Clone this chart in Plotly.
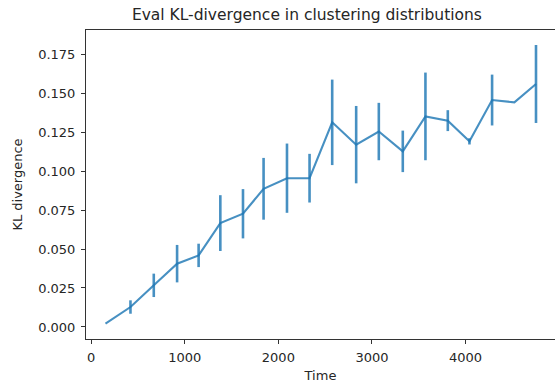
import plotly.graph_objects as go

time = [153, 420, 669, 918, 1148, 1380, 1622, 1842, 2092, 2333,
        2575, 2831, 3073, 3329, 3571, 3810, 4041, 4283, 4521, 4752]
kl_mean = [0.0022, 0.0128, 0.0267, 0.0406, 0.0459, 0.0666, 0.0726, 0.0886, 0.0954, 0.0954,
           0.1312, 0.1169, 0.1253, 0.1126, 0.1350, 0.1323, 0.1190, 0.1455, 0.1440, 0.1558]
kl_err = [0.0, 0.0043, 0.0075, 0.0120, 0.0075, 0.0179, 0.0158, 0.0198, 0.0222, 0.0156,
          0.0274, 0.0248, 0.0184, 0.0133, 0.0281, 0.0067, 0.0020, 0.0163, 0.0, 0.0250]

y_ticks = [0.0, 0.025, 0.05, 0.075, 0.1, 0.125, 0.15, 0.175]
x_ticks = [0, 1000, 2000, 3000, 4000]

color = "rgba(31,119,180,0.82)"
font = "DejaVu Sans"

fig = go.Figure()
fig.add_trace(go.Scatter(
    x=time, y=kl_mean, mode="lines",
    line=dict(color=color, width=2.1),
    error_y=dict(type="data", array=kl_err, visible=True,
                 color=color, thickness=2.6, width=0),
    showlegend=False,
))

fig.update_layout(
    width=555, height=383,
    margin=dict(l=86, r=0, t=30, b=44),
    paper_bgcolor="white", plot_bgcolor="white",
    font=dict(family=font, size=13, color="#262626"),
    title=dict(text="Eval KL-divergence in clustering distributions",
               x=0.553, xanchor="center", y=0.962, yanchor="middle",
               font=dict(family=font, size=15.5, color="#262626")),
)
fig.update_xaxes(
    range=[-55, 4955], tickvals=x_ticks, ticktext=[str(t) for t in x_ticks],
    showgrid=False, zeroline=False, showline=True, linecolor="#333333", linewidth=1,
    mirror=True, ticks="outside", ticklen=4, tickcolor="#333333",
    ticklabelstandoff=2,
    title=dict(text="Time", standoff=8, font=dict(size=13)),
)
fig.update_yaxes(
    range=[-0.0077, 0.1904], tickvals=y_ticks, ticktext=[f"{t:.3f}" for t in y_ticks],
    showgrid=False, zeroline=False, showline=True, linecolor="#333333", linewidth=1,
    mirror=False, ticks="outside", ticklen=4, tickcolor="#333333",
    ticklabelstandoff=3,
    title=dict(text="KL divergence", standoff=12, font=dict(size=13)),
)

fig.write_html("out.html")
